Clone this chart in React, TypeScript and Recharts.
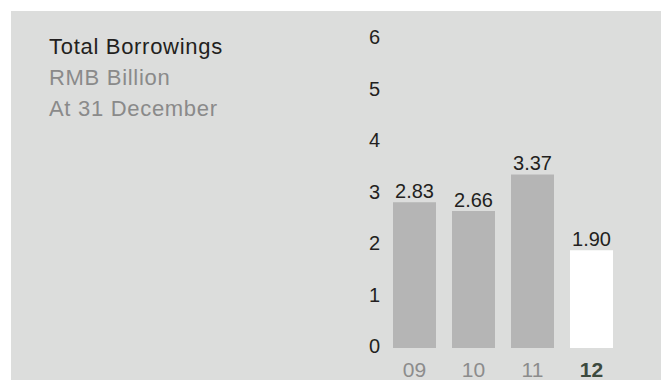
import { BarChart, Bar, XAxis, YAxis, Cell, LabelList } from 'recharts';

const years = ['09', '10', '11', '12'];
const borrowings = [2.83, 2.66, 3.37, 1.9];
const yTicks = [0, 1, 2, 3, 4, 5, 6];
const latestYear = '12';

const data = years.map((year, i) => ({ year, value: borrowings[i] }));

const FONT = '"Liberation Sans", Arial, Helvetica, sans-serif';

// x tick: past years in grey, the latest one bold
function YearTick(props: any) {
  const { x, y, payload } = props;
  const isLatest = payload.value === latestYear;
  return (
    <text
      x={x}
      y={y}
      dy="0.71em"
      textAnchor="middle"
      fontSize={21}
      fontFamily={FONT}
      fontWeight={isLatest ? 'bold' : 'normal'}
      fill={isLatest ? '#3d4a3f' : '#8c8c8c'}
    >
      {payload.value}
    </text>
  );
}

export default function App() {
  return (
    <div
      style={{
        position: 'fixed',
        left: 11,
        top: 11,
        width: 650,
        height: 369,
        background: '#dcdddc',
        fontFamily: FONT,
        overflow: 'hidden'
      }}
    >
      <div style={{ position: 'absolute', left: 38, top: 20, lineHeight: '31px', fontSize: 22, letterSpacing: 0.7 }}>
        <div style={{ color: '#231f20' }}>Total Borrowings</div>
        <div style={{ color: '#8a8a8a' }}>RMB Billion</div>
        <div style={{ color: '#8a8a8a' }}>At 31 December</div>
      </div>
      <BarChart width={650} height={369} data={data} margin={{ top: 28, right: 40, bottom: 0, left: 314 }}>
        <XAxis
          dataKey="year"
          axisLine={false}
          tickLine={false}
          tickSize={0}
          tickMargin={14}
          height={32}
          interval={0}
          tick={<YearTick />}
        />
        <YAxis
          domain={[0, 6]}
          ticks={yTicks}
          axisLine={false}
          tickLine={false}
          tickSize={0}
          tickMargin={5}
          width={60}
          tick={{ fill: '#231f20', fontSize: 20, fontFamily: FONT, dy: -2 }}
        />
        <Bar dataKey="value" barSize={43} isAnimationActive={false}>
          {data.map((d) => (
            <Cell key={d.year} fill={d.year === latestYear ? '#ffffff' : '#b5b5b5'} />
          ))}
          <LabelList
            dataKey="value"
            position="top"
            offset={4}
            formatter={(v: any) => Number(v).toFixed(2)}
            fill="#231f20"
            fontSize={20}
            fontFamily={FONT}
          />
        </Bar>
      </BarChart>
    </div>
  );
}
